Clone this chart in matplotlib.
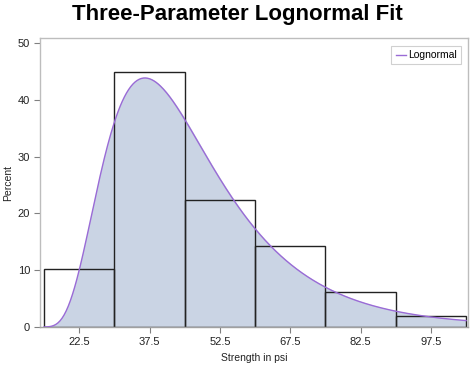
import numpy as np
import matplotlib
matplotlib.use("Agg")
import matplotlib.pyplot as plt

plt.rcParams['font.family'] = ['Liberation Sans', 'DejaVu Sans']

# histogram data (percent per bin)
bin_edges = [15, 30, 45, 60, 75, 90, 105]
percents = [10.2, 44.9, 22.4, 14.3, 6.1, 2.0]
tick_labels = ["22.5", "37.5", "52.5", "67.5", "82.5", "97.5"]

# fitted three-parameter lognormal (threshold, scale, shape)
theta = 12.0
zeta = 3.442
sigma = 0.493
bin_width = 15

x = np.linspace(15, 105, 400)
y = x - theta
pdf = np.exp(-(np.log(y) - zeta) ** 2 / (2 * sigma ** 2)) / (y * sigma * np.sqrt(2 * np.pi))
curve = pdf * 100 * bin_width

fig = plt.figure(figsize=(4.74, 3.70), dpi=100)
ax = fig.add_axes([0.0854, 0.1162, 0.9009, 0.7811])

ax.fill_between(x, 0, curve, color='#CAD4E4', zorder=1)
lefts = bin_edges[:-1]
ax.bar(lefts, percents, width=bin_width, align='edge', fill=False,
       edgecolor='#222222', linewidth=1.0, zorder=2)
ax.plot(x, curve, color='#9A6BD6', linewidth=1.0, zorder=3, label='Lognormal')

ax.set_xlim(14.25, 105.3)
ax.set_ylim(0, 50.9)
ax.set_xticks([22.5, 37.5, 52.5, 67.5, 82.5, 97.5])
ax.set_xticklabels(tick_labels)
ax.set_yticks([0, 10, 20, 30, 40, 50])

for s in ax.spines.values():
    s.set_color('#BDBDBD')
    s.set_linewidth(1.0)
ax.spines['bottom'].set_color('#A0A0A0')
ax.tick_params(colors='#808080', labelcolor='#222222', labelsize=8,
               length=4, width=0.8, direction='out')

ax.set_xlabel('Strength in psi', fontsize=7.5, color='#222222', labelpad=4)
ax.set_ylabel('Percent', fontsize=7.5, color='#222222', labelpad=3)

fig.text(0.5, 0.962, 'Three-Parameter Lognormal Fit', ha='center', va='center',
         fontsize=16, fontweight='bold')

leg = ax.legend(loc='upper right', fontsize=7.5, handlelength=1.0,
                handletextpad=0.2, borderpad=0.4, fancybox=False,
                bbox_to_anchor=(0.997, 0.99), framealpha=1)
leg.get_frame().set_edgecolor('#D0D0D0')
leg.get_frame().set_linewidth(0.8)

fig.savefig('out.png', dpi=100)
